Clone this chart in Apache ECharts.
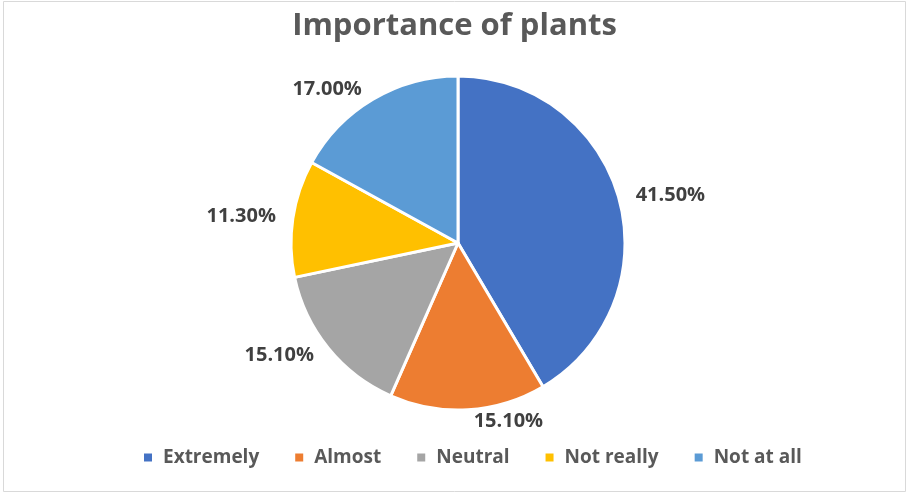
<!DOCTYPE html>
<html>
<head>
<meta charset="utf-8">
<script src="https://cdn.jsdelivr.net/npm/echarts@6/dist/echarts.min.js"></script>
<style>
  html, body { margin: 0; padding: 0; background: #ffffff; }
  #chart { width: 909px; height: 495px; }
</style>
</head>
<body>
<div id="chart"></div>
<script>
// Survey answers: how important are plants
const categories = ['Extremely', 'Almost', 'Neutral', 'Not really', 'Not at all'];
const shares = [41.5, 15.1, 15.1, 11.3, 17.0];
const sliceColors = ['#4472C4', '#ED7D31', '#A5A5A5', '#FFC000', '#5B9BD5'];
const chartTitle = 'Importance of plants';

const fontFamily = '"Open Sans", "Liberation Sans", sans-serif';

const chart = echarts.init(document.getElementById('chart'), null, { renderer: 'canvas' });

chart.setOption({
  backgroundColor: '#ffffff',
  animation: false,
  color: sliceColors,
  title: {
    text: chartTitle,
    left: 'center',
    top: 6,
    textStyle: {
      fontFamily: fontFamily,
      fontSize: 31,
      fontWeight: 'bold',
      color: '#595959'
    }
  },
  legend: {
    data: categories,
    left: 142,
    top: 448,
    padding: 0,
    icon: 'rect',
    itemWidth: 10,
    itemHeight: 10,
    itemGap: 34,
    textStyle: {
      fontFamily: fontFamily,
      fontSize: 19,
      fontWeight: 'bold',
      color: '#595959',
      padding: [0, 0, 0, 5]
    }
  },
  graphic: [{
    type: 'rect',
    shape: { x: 3.5, y: 1.5, width: 902, height: 490 },
    style: { fill: 'none', stroke: '#d9d9d9', lineWidth: 1 },
    silent: true
  }],
  series: [{
    type: 'pie',
    center: [458, 243],
    radius: 167,
    startAngle: 90,
    clockwise: true,
    avoidLabelOverlap: false,
    itemStyle: { borderColor: '#ffffff', borderWidth: 3 },
    label: {
      show: true,
      position: 'outside',
      formatter: p => p.value.toFixed(2) + '%',
      fontFamily: fontFamily,
      fontSize: 20,
      fontWeight: 'bold',
      color: '#404040'
    },
    labelLine: { show: false, length: 12, length2: 0 },
    emphasis: { disabled: true },
    data: categories.map((name, i) => ({ name: name, value: shares[i] }))
  }]
});
</script>
</body>
</html>
